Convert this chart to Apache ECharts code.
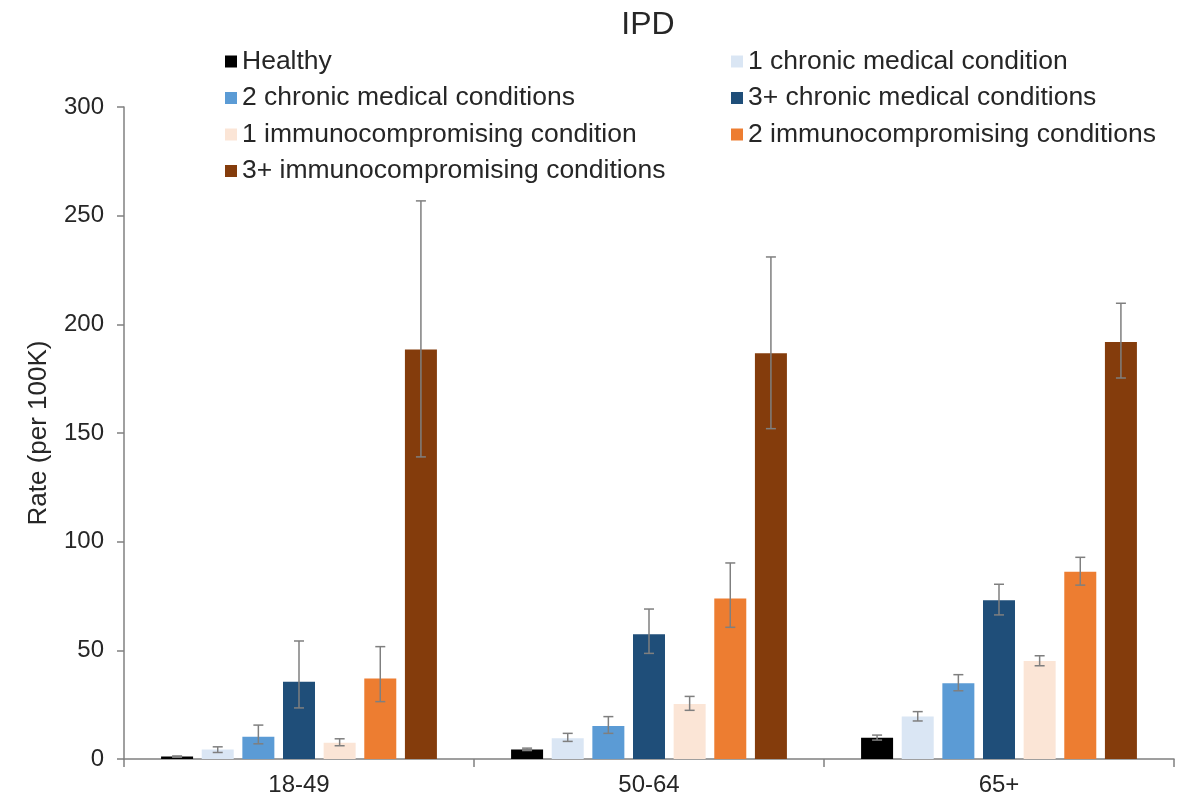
<!DOCTYPE html>
<html>
<head>
<meta charset="utf-8">
<script src="https://cdn.jsdelivr.net/npm/echarts@6/dist/echarts.min.js"></script>
<style>
  html, body { margin: 0; padding: 0; background: #fff; }
  #chart { width: 1186px; height: 804px; }
</style>
</head>
<body>
<div id="chart"></div>
<script>
const ageGroups = ['18-49', '50-64', '65+']
const yTicks = [0, 50, 100, 150, 200, 250, 300]

const seriesNames = [
  'Healthy',
  '1 chronic medical condition',
  '2 chronic medical conditions',
  '3+ chronic medical conditions',
  '1 immunocompromising condition',
  '2 immunocompromising conditions',
  '3+ immunocompromising conditions'
]
const colors = ['#000000', '#dae6f4', '#5b9bd5', '#1f4e79', '#fbe5d6', '#ed7d31', '#843c0c']

// rates per 100K, one value per age group
const healthy = [1.1, 4.4, 9.8]
const chronic1 = [4.4, 9.6, 19.5]
const chronic2 = [10.2, 15.2, 34.8]
const chronic3 = [35.6, 57.4, 73.0]
const immuno1 = [7.5, 25.3, 45.1]
const immuno2 = [37.0, 73.8, 86.2]
const immuno3 = [188.4, 186.7, 191.9]

// error bar ends
const healthyLow = [0.8, 3.9, 8.7]
const healthyHigh = [1.4, 5.0, 11.0]
const chronic1Low = [3.0, 8.1, 17.5]
const chronic1High = [5.6, 11.8, 21.8]
const chronic2Low = [7.0, 11.8, 31.4]
const chronic2High = [15.6, 19.5, 38.8]
const chronic3Low = [23.5, 48.6, 66.3]
const chronic3High = [54.3, 69.0, 80.4]
const immuno1Low = [6.1, 22.4, 42.9]
const immuno1High = [9.3, 28.8, 47.5]
const immuno2Low = [26.4, 60.6, 80.0]
const immuno2High = [51.7, 90.2, 92.8]
const immuno3Low = [139.0, 152.0, 175.3]
const immuno3High = [256.8, 231.0, 209.7]

const rates = [healthy, chronic1, chronic2, chronic3, immuno1, immuno2, immuno3]
const lows = [healthyLow, chronic1Low, chronic2Low, chronic3Low, immuno1Low, immuno2Low, immuno3Low]
const highs = [healthyHigh, chronic1High, chronic2High, chronic3High, immuno1High, immuno2High, immuno3High]

const barW = 32
const barGapRatio = 0.27
const font = 'Liberation Sans, Arial, sans-serif'

// [category, series, low, high]
const errData = []
lows.forEach((lo, s) => {
  lo.forEach((v, c) => errData.push([c, s, v, highs[s][c]]))
})

const chart = echarts.init(document.getElementById('chart'))

const barSeries = seriesNames.map((name, i) => ({
  name: name,
  type: 'bar',
  data: rates[i],
  barWidth: barW,
  barGap: (barGapRatio * 100) + '%',
  itemStyle: { color: colors[i] },
  z: 2
}))

const errSeries = {
  name: 'errors',
  type: 'custom',
  z: 5,
  silent: true,
  data: errData,
  encode: { x: 0, y: [2, 3] },
  renderItem: (params, api) => {
    const c = api.value(0)
    const s = api.value(1)
    const step = barW * (1 + barGapRatio)
    const off = (s - (seriesNames.length - 1) / 2) * step
    const lo = api.coord([c, api.value(2)])
    const hi = api.coord([c, api.value(3)])
    const x = lo[0] + off
    const cap = 5
    const style = { stroke: '#7f7f7f', lineWidth: 1.5 }
    return {
      type: 'group',
      children: [
        { type: 'line', shape: { x1: x, y1: lo[1], x2: x, y2: hi[1] }, style: style },
        { type: 'line', shape: { x1: x - cap, y1: lo[1], x2: x + cap, y2: lo[1] }, style: style },
        { type: 'line', shape: { x1: x - cap, y1: hi[1], x2: x + cap, y2: hi[1] }, style: style }
      ]
    }
  }
}

const legendBase = {
  orient: 'vertical',
  icon: 'rect',
  itemWidth: 12,
  itemHeight: 12,
  itemGap: 9.5,
  padding: 0,
  selectedMode: false,
  textStyle: { fontFamily: font, fontSize: 26.5, color: '#262626', lineHeight: 26 }
}

const option = {
  backgroundColor: '#fff',
  animation: false,
  title: {
    text: 'IPD',
    left: 643,
    top: 4,
    textAlign: 'center',
    textStyle: { fontFamily: font, fontSize: 32, fontWeight: 'normal', color: '#262626' }
  },
  legend: [
    Object.assign({}, legendBase, {
      left: 225, top: 48,
      data: [seriesNames[0], seriesNames[2], seriesNames[4], seriesNames[6]]
    }),
    Object.assign({}, legendBase, {
      left: 731, top: 48,
      data: [seriesNames[1], seriesNames[3], seriesNames[5]]
    })
  ],
  grid: { left: 124, right: 12, top: 107, bottom: 45 },
  xAxis: {
    type: 'category',
    data: ageGroups,
    axisLine: { lineStyle: { color: '#808080', width: 1.5 } },
    axisTick: { show: true, length: 8, lineStyle: { color: '#808080', width: 1.5 } },
    axisLabel: { fontFamily: font, fontSize: 24, color: '#262626', margin: 14 }
  },
  yAxis: {
    type: 'value',
    min: yTicks[0],
    max: yTicks[yTicks.length - 1],
    interval: yTicks[1] - yTicks[0],
    name: 'Rate (per 100K)',
    nameLocation: 'middle',
    nameGap: 72,
    nameTextStyle: { fontFamily: font, fontSize: 26, color: '#262626' },
    splitLine: { show: false },
    axisLine: { show: true, lineStyle: { color: '#808080', width: 1.5 } },
    axisTick: { show: true, length: 7, lineStyle: { color: '#808080', width: 1.5 } },
    axisLabel: { fontFamily: font, fontSize: 24, color: '#262626', margin: 20 }
  },
  series: barSeries.concat([errSeries])
}

chart.setOption(option)
</script>
</body>
</html>
